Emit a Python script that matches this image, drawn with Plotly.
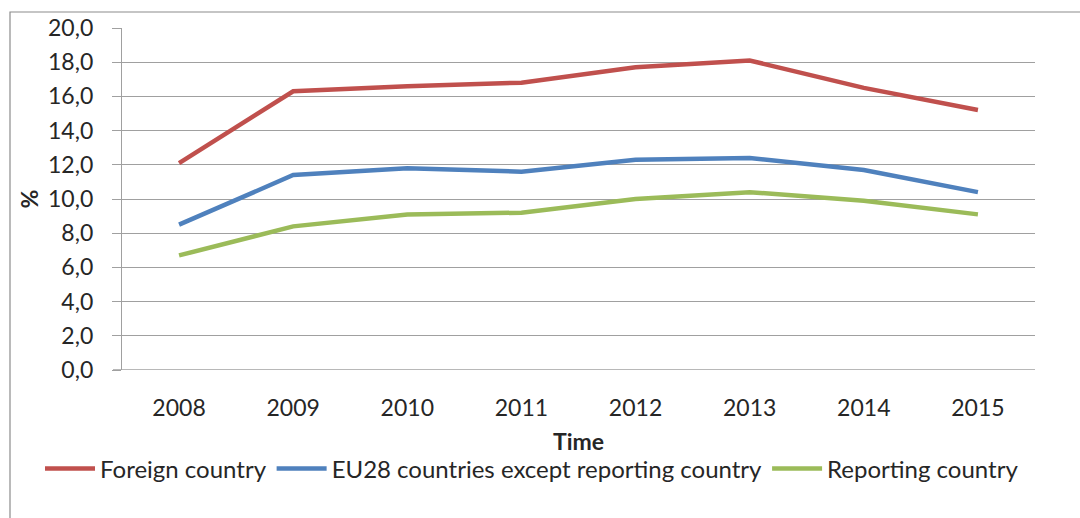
import plotly.graph_objects as go

# Share of people (%) by country of birth, 2008-2015
years = ["2008", "2009", "2010", "2011", "2012", "2013", "2014", "2015"]
foreign_country = [12.1, 16.3, 16.6, 16.8, 17.7, 18.1, 16.5, 15.2]
eu28_except_reporting = [8.5, 11.4, 11.8, 11.6, 12.3, 12.4, 11.7, 10.4]
reporting_country = [6.7, 8.4, 9.1, 9.2, 10.0, 10.4, 9.9, 9.1]

series_names = ["Foreign country", "EU28 countries except reporting country", "Reporting country"]
series_colors = ["#C0504D", "#4F81BD", "#9BBB59"]
y_ticks = [0, 2, 4, 6, 8, 10, 12, 14, 16, 18, 20]

W, H = 1080, 518
M_L, M_R, M_T, M_B = 122, 45, 28, 148
PW, PH = W - M_L - M_R, H - M_T - M_B


def px_x(p):
    return (p - M_L) / PW


def px_y(p):
    return (H - M_B - p) / PH


GRID = "#A0A0A0"
TEXT = "#262626"
FONT = "Lato, Calibri, Carlito, sans-serif"
TICK_SIZE = 23
LEGEND_SIZE = 24

fig = go.Figure()
for name, vals, col in zip(series_names,
                           [foreign_country, eu28_except_reporting, reporting_country],
                           series_colors):
    fig.add_trace(go.Scatter(
        x=years, y=vals, name=name, mode="lines",
        line=dict(color=col, width=4.5),
    ))

fig.update_layout(
    width=W, height=H,
    margin=dict(l=M_L, r=M_R, t=M_T, b=M_B),
    paper_bgcolor="white", plot_bgcolor="white",
    separators=",.",
    font=dict(family=FONT, size=TICK_SIZE, color=TEXT),
    showlegend=True,
    legend=dict(
        orientation="h",
        x=px_x(40), xanchor="left",
        y=px_y(469), yanchor="middle",
        font=dict(family=FONT, size=LEGEND_SIZE, color=TEXT),
        itemwidth=50,
        tracegroupgap=0,
        bgcolor="rgba(0,0,0,0)",
    ),
    xaxis=dict(
        type="category",
        range=[-0.5, 7.5],
        showgrid=False,
        showline=False,
        ticks="",
        ticklabelstandoff=22,
        tickfont=dict(size=TICK_SIZE),
        title=dict(text="<b>Time</b>", font=dict(size=TICK_SIZE), standoff=13),
        fixedrange=True,
    ),
    yaxis=dict(
        range=[0, 20],
        tickvals=y_ticks,
        tickformat=".1f",
        showgrid=True, gridcolor=GRID, gridwidth=1.3,
        showline=True, linecolor=GRID, linewidth=1.3,
        zeroline=False,
        ticks="outside", ticklen=9, tickcolor=GRID, tickwidth=1.3,
        ticklabelstandoff=14,
        tickfont=dict(size=TICK_SIZE),
        title=dict(text="<b>%</b>", font=dict(size=TICK_SIZE), standoff=2),
        fixedrange=True,
    ),
    shapes=[
        # baseline along 0
        dict(type="line", xref="paper", yref="y",
             x0=px_x(113), x1=1, y0=0, y1=0,
             line=dict(color=GRID, width=1.3)),
        # chart frame
        dict(type="rect", xref="paper", yref="paper",
             x0=px_x(10), x1=px_x(1090), y0=px_y(530), y1=px_y(12),
             line=dict(color="#8C8C8C", width=1.2), layer="below"),
    ],
)

fig.write_html("out.html")
